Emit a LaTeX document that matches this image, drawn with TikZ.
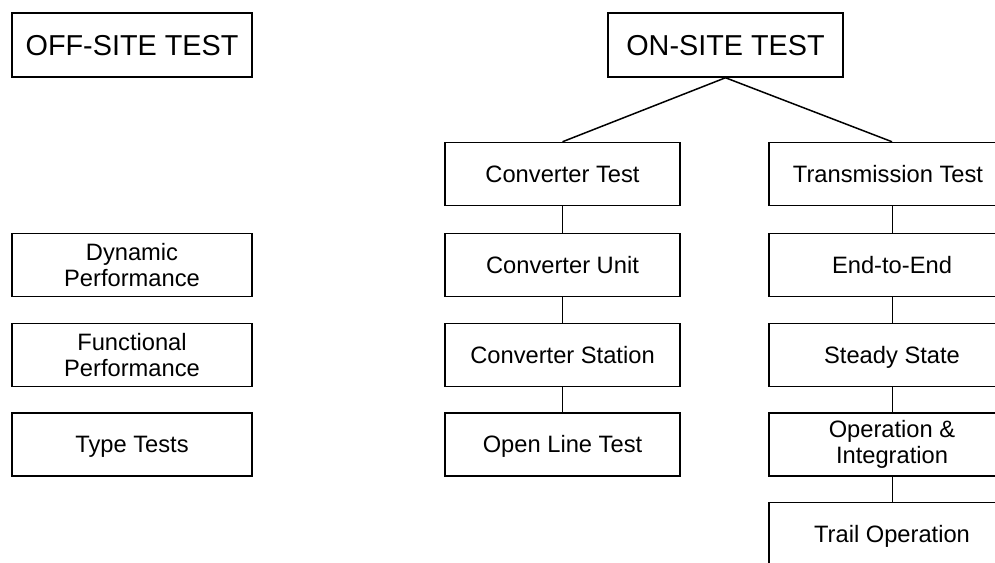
\documentclass[tikz,border=0pt]{standalone}
\usepackage{fontspec}
\setmainfont{Liberation Sans}

\begin{document}
\begin{tikzpicture}[x=1pt,y=-1pt,
    box/.style={draw,line width=1.5pt,inner sep=0pt,align=center,
        minimum height=63pt,font=\fontsize{23.7}{26}\selectfont},
    oneline/.style={text height=17pt,text depth=0.5pt},
    headbox/.style={box,minimum height=64pt,text height=20.6pt,text depth=0.5pt,
        font=\fontsize{28.8}{32}\selectfont},
    offbox/.style={box,minimum width=240pt},
    convbox/.style={box,oneline,minimum width=235pt},
    transbox/.style={box,minimum width=246pt},
    branch/.style={line width=1.5pt},
    link/.style={line width=1pt}]
%\draw [help lines](0,0) grid (995,562);
\useasboundingbox (0,0) rectangle (995,562);
\clip (0,0) rectangle (995,562);
% off-site column
\node [headbox,minimum width=240pt] (offsite) at (132,45) {OFF-SITE TEST};
\node [offbox] (dynperf) at (132,265) {Dynamic\\Performance};
\node [offbox] (funcperf) at (132,355) {Functional\\Performance};
\node [offbox,oneline] (typetests) at (132,444.5) {Type Tests};
% on-site tree
\node [headbox,minimum width=235pt] (onsite) at (725.5,45) {ON-SITE TEST};
\node [convbox] (convtest) at (562.5,174) {Converter Test};
\node [convbox] (convunit) at (562.5,265) {Converter Unit};
\node [convbox] (convstation) at (562.5,355) {Converter Station};
\node [convbox] (openline) at (562.5,444.5) {Open Line Test};
\node [transbox,oneline] (transtest) at (892,174) {\hspace*{-8pt}Transmission Test};
\node [transbox,oneline] (endtoend) at (892,265) {End-to-End};
\node [transbox,oneline] (steady) at (892,355) {Steady State};
\node [transbox] (opint) at (892,444.5) {Operation \&\\Integration};
\node [transbox,oneline] (trailop) at (892,534) {Trail Operation};
\draw [branch] (onsite.south) -- (convtest.north);
\draw [branch] (onsite.south) -- (transtest.north);
\draw [link] (convtest) -- (convunit);
\draw [link] (convunit) -- (convstation);
\draw [link] (convstation) -- (openline);
\draw [link] (transtest) -- (endtoend);
\draw [link] (endtoend) -- (steady);
\draw [link] (steady) -- (opint);
\draw [link] (opint) -- (trailop);
\end{tikzpicture}
\end{document}
